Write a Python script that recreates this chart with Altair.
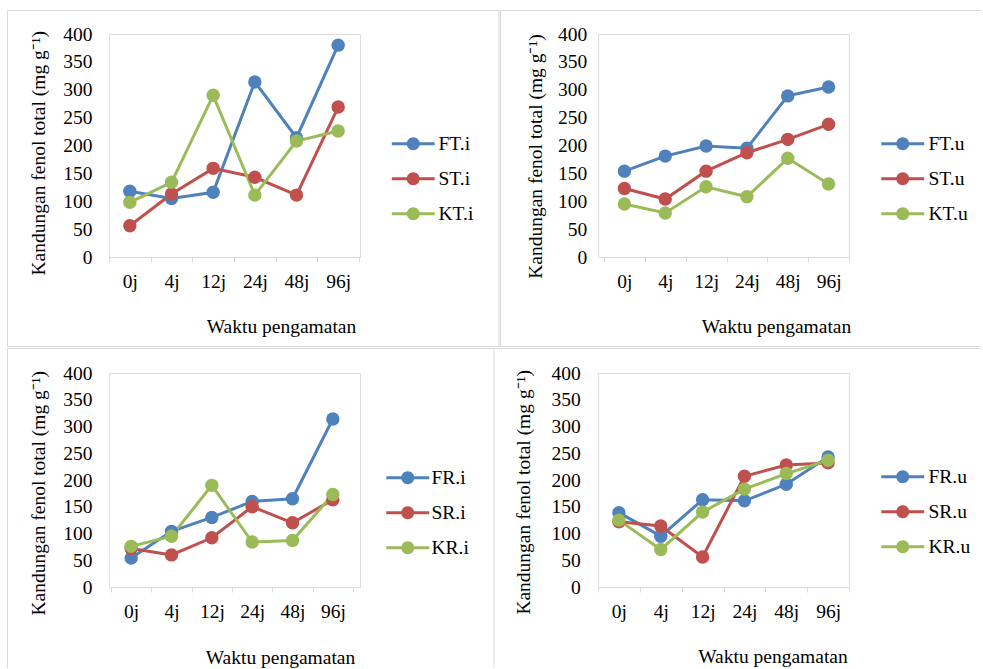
import altair as alt
import pandas as pd

# Sampling times (x categories)
waktu = ["0j", "4j", "12j", "24j", "48j", "96j"]

# Total phenol content (mg g-1) per series
FT_i = [118, 105, 116, 314, 214, 380]
ST_i = [56, 113, 159, 143, 111, 269]
KT_i = [98, 134, 290, 111, 208, 226]

FT_u = [154, 181, 199, 195, 289, 305]
ST_u = [123, 104, 154, 187, 211, 238]
KT_u = [95, 79, 126, 108, 177, 131]

FR_i = [54, 104, 130, 160, 165, 314]
SR_i = [72, 60, 92, 150, 120, 163]
KR_i = [76, 95, 190, 84, 87, 173]

FR_u = [139, 95, 163, 161, 192, 243]
SR_u = [122, 114, 56, 207, 228, 232]
KR_u = [125, 70, 140, 183, 212, 237]

y_ticks = [0, 50, 100, 150, 200, 250, 300, 350, 400]
warna = ["#4F81BD", "#C0504D", "#9BBB59"]

FONT = "Liberation Serif"
FS = 19.5
GRAY = "#d9d9d9"
Y_TITLE = "Kandungan  fenol total (mg g\u207b\u00b9)"

# legend glyph: a short line with a dot in the middle
LEGEND_GLYPH = ("M-3.3,-0.22H3.3V0.22H-3.3Z "
                "M1,0A1,1,0,1,1,-1,0A1,1,0,1,1,1,0Z")


def seg(x1, x2, y1, y2):
    return alt.Chart(pd.DataFrame({"k": [0]})).mark_rule(
        color=GRAY, strokeWidth=1
    ).encode(
        x=alt.value(x1), x2=alt.value(x2), y=alt.value(y1), y2=alt.value(y2)
    )


def panel(names, series, height, xrange, ylab_pad, ytx, yty, xtx, xty,
          lx, ly, loff, frame):
    rows = []
    for nm, vals in zip(names, series):
        for w, v in zip(waktu, vals):
            rows.append({"waktu": w, "nilai": v, "seri": nm})
    df = pd.DataFrame(rows)

    x = alt.X(
        "waktu:N", sort=waktu, bandPosition=0.5,
        scale=alt.Scale(type="band", paddingInner=0, paddingOuter=0,
                        range=xrange),
        axis=alt.Axis(
            title="Waktu pengamatan", titleFont=FONT, titleFontSize=FS,
            titleFontWeight="normal", titleColor="black",
            titleX=xtx, titleY=xty, titleBaseline="alphabetic",
            labelAngle=0, labelFont=FONT, labelFontSize=FS,
            labelColor="black", labelBaseline="alphabetic", labelPadding=25,
            tickBand="extent", tickSize=5, tickColor=GRAY,
            domainColor=GRAY, grid=False,
        ),
    )
    y = alt.Y(
        "nilai:Q",
        scale=alt.Scale(domain=[0, 400], nice=False),
        axis=alt.Axis(
            values=y_ticks, domain=False, ticks=False, tickSize=0,
            grid=False, labelPadding=ylab_pad, labelFont=FONT,
            labelFontSize=FS, labelColor="black",
            title=Y_TITLE, titleFont=FONT, titleFontSize=FS,
            titleFontWeight="normal", titleColor="black", titleAngle=270,
            titleX=ytx, titleY=yty, titleBaseline="alphabetic",
        ),
    )
    cscale = alt.Scale(domain=names, range=warna)
    base = alt.Chart(df)
    line = base.mark_line(strokeWidth=3).encode(
        x=x, y=y,
        color=alt.Color("seri:N", scale=cscale, legend=None),
    )
    dots = base.mark_point(filled=True, size=180, opacity=1,
                           strokeWidth=0).encode(
        x=x, y=y,
        color=alt.Color(
            "seri:N", scale=cscale,
            legend=alt.Legend(
                title=None, orient="none", legendX=lx, legendY=ly,
                symbolType=LEGEND_GLYPH, symbolSize=169,
                symbolStrokeWidth=0, symbolOffset=0, padding=0,
                labelFont=FONT, labelFontSize=FS, labelColor="black",
                labelOffset=loff, rowPadding=14,
            ),
        ),
    )
    frames = [seg(*f) for f in frame]
    return alt.layer(*frames, line, dots).resolve_legend(
        color="independent"
    ).properties(width=251, height=height)


tl = panel(["FT.i", "ST.i", "KT.i"], [FT_i, ST_i, KT_i], 223, [0, 250],
           17, -65, 118.7, 172, 75.5, 294.5, 100, 15.5,
           [(-101.5, 390, -23.5, -23.5), (-101.5, 390, 312.5, 312.5),
            (-101.5, -101.5, -23.5, 312.5), (390, 390, -23.5, 312.5)])
tr = panel(["FT.u", "ST.u", "KT.u"], [FT_u, ST_u, KT_u], 223, [6, 251],
           11.3, -57, 122, 178, 75.5, 295, 100, 16,
           [(-97.5, -97.5, -23.5, 312.5), (-97.5, 383, -23.5, -23.5),
            (-97.5, 383, 312.5, 312.5)])
bl = panel(["FR.i", "SR.i", "KR.i"], [FR_i, SR_i, KR_i], 214, [2, 244],
           17, -65, 119.7, 171, 76.7, 289, 95, 14,
           [(-101.5, 385, -24.5, -24.5), (-101.5, -101.5, -24.5, 295),
            (385, 385, -24.5, 295)])
br = panel(["FR.u", "SR.u", "KR.u"], [FR_u, SR_u, KR_u], 214, [0, 251],
           17.7, -68.7, 118.8, 174.5, 75.7, 295, 94, 16,
           [(-104, 383, -24.5, -24.5)])

chart = alt.concat(
    tl, tr, bl, br, columns=2, spacing={"row": 116, "column": 238},
    bounds="flush",
).resolve_scale(
    color="independent"
).resolve_legend(
    color="independent"
).properties(
    padding={"left": 6, "top": 9, "right": 0, "bottom": 0}
).configure_view(
    stroke=None
).configure_axis(
    labelFont=FONT, titleFont=FONT
).configure_legend(
    labelFont=FONT
).configure(
    background="white"
)

chart.save("out.html", embed_options={"renderer": "svg", "actions": False})
